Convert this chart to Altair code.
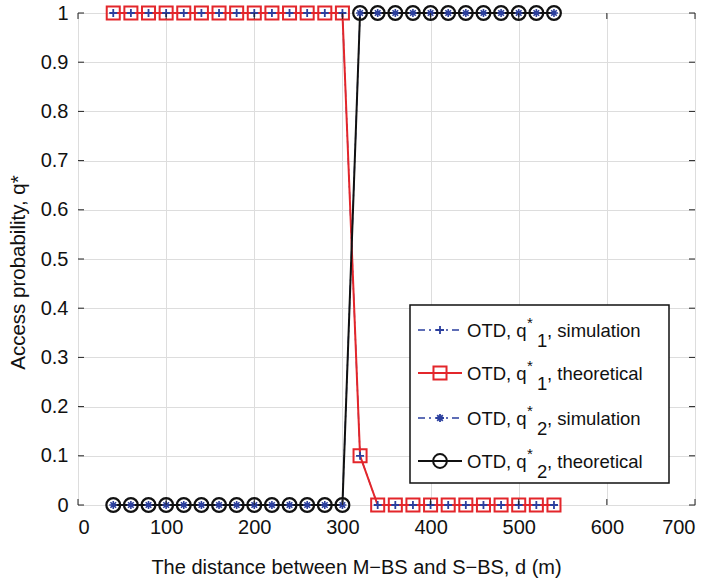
import altair as alt
import pandas as pd

# Distance between M-BS and S-BS (m)
distance = [40, 60, 80, 100, 120, 140, 160, 180, 200, 220, 240, 260, 280,
            300, 320, 340, 360, 380, 400, 420, 440, 460, 480, 500, 520, 540]
# Access probabilities
q1_sim = [1, 1, 1, 1, 1, 1, 1, 1, 1, 1, 1, 1, 1, 1, 0.1,
          0, 0, 0, 0, 0, 0, 0, 0, 0, 0, 0]
q1_theory = [1, 1, 1, 1, 1, 1, 1, 1, 1, 1, 1, 1, 1, 1, 0.1,
             0, 0, 0, 0, 0, 0, 0, 0, 0, 0, 0]
q2_sim = [0, 0, 0, 0, 0, 0, 0, 0, 0, 0, 0, 0, 0, 0, 1,
          1, 1, 1, 1, 1, 1, 1, 1, 1, 1, 1]
q2_theory = [0, 0, 0, 0, 0, 0, 0, 0, 0, 0, 0, 0, 0, 0, 1,
             1, 1, 1, 1, 1, 1, 1, 1, 1, 1, 1]

x_ticks = [0, 100, 200, 300, 400, 500, 600, 700]
y_ticks = [0, 0.1, 0.2, 0.3, 0.4, 0.5, 0.6, 0.7, 0.8, 0.9, 1]

W, H = 617, 492
FONT = "Liberation Sans"
RED = "#e3262b"
BLUE = "#2b3f9e"
BLACK = "#111111"

PLUS = "M-1,0L1,0M0,-1L0,1"
STAR = "M-1,0L1,0M0,-1L0,1M-0.7,-0.7L0.7,0.7M-0.7,0.7L0.7,-0.7"

df_q1s = pd.DataFrame({"d": distance, "q": q1_sim})
df_q1t = pd.DataFrame({"d": distance, "q": q1_theory})
df_q2s = pd.DataFrame({"d": distance, "q": q2_sim})
df_q2t = pd.DataFrame({"d": distance, "q": q2_theory})

xs = alt.Scale(domain=[0, 700], nice=False)
ys = alt.Scale(domain=[0, 1], nice=False)

X = alt.X("d:Q", scale=xs, axis=alt.Axis(
    values=x_ticks, format="d", grid=True, tickSize=0, domain=False,
    labelFontSize=20, labelPadding=12, labelFont=FONT, labelColor="#111",
    title="The distance between M\u2212BS and S\u2212BS, d (m)",
    titleFont=FONT, titleFontSize=20, titleFontWeight="normal", titleColor="#111",
    titleX=278, titleY=62, titleBaseline="middle", titleAnchor="middle", titleAlign="center"))
Y = alt.Y("q:Q", scale=ys, axis=alt.Axis(
    values=y_ticks, format=".1~f", grid=True, tickSize=0, domain=False,
    labelFontSize=20, labelPadding=10, labelFont=FONT, labelColor="#111",
    title="Access probability, q*",
    titleFont=FONT, titleFontSize=20.5, titleFontWeight="normal", titleColor="#111",
    titleX=-60, titleY=259, titleAngle=-90, titleBaseline="middle", titleAlign="center"))


def line(df, color, width, dash=None):
    kw = dict(color=color, strokeWidth=width)
    if dash:
        kw["strokeDash"] = dash
    return alt.Chart(df).mark_line(**kw).encode(x=X, y=Y)


def points(df, shape, color, size, width, fill=False):
    return alt.Chart(df).mark_point(shape=shape, filled=fill, stroke=color,
                                    strokeWidth=width, size=size, opacity=1).encode(
        x=alt.X("d:Q", scale=xs), y=alt.Y("q:Q", scale=ys))


# Inward tick marks on all four sides
tx = pd.DataFrame({"d": x_ticks})
ty = pd.DataFrame({"q": y_ticks})
ticks = [
    alt.Chart(tx).mark_rule(color="#222", strokeWidth=1).encode(
        x=alt.X("d:Q", scale=xs), y=alt.value(H), y2=alt.value(H - 6)),
    alt.Chart(tx).mark_rule(color="#222", strokeWidth=1).encode(
        x=alt.X("d:Q", scale=xs), y=alt.value(0), y2=alt.value(6)),
    alt.Chart(ty).mark_rule(color="#222", strokeWidth=1).encode(
        y=alt.Y("q:Q", scale=ys), x=alt.value(0), x2=alt.value(6)),
    alt.Chart(ty).mark_rule(color="#222", strokeWidth=1).encode(
        y=alt.Y("q:Q", scale=ys), x=alt.value(W - 6), x2=alt.value(W)),
]

series = [
    line(df_q1s, BLUE, 1.3, [7, 4, 2, 4]),
    line(df_q1t, RED, 2),
    line(df_q2s, BLUE, 1.3, [7, 4, 2, 4]),
    line(df_q2t, BLACK, 2),
    points(df_q1t, "square", RED, 170, 2),
    points(df_q2t, "circle", BLACK, 190, 2.2),
    points(df_q1s, PLUS, BLUE, 64, 1.8),
    points(df_q2s, STAR, BLUE, 64, 1.6),
]

# Legend box
box = alt.Chart(pd.DataFrame({"k": [0]})).mark_rect(
    fill="white", stroke="#111", strokeWidth=1.5).encode(
    x=alt.value(332), x2=alt.value(591), y=alt.value(292), y2=alt.value(470))

legend_entries = [
    # (row y, line colour, dash, marker shape, marker colour, marker size, subscript, suffix)
    (317, BLUE, [7, 4, 2, 4], PLUS, BLUE, 64, "1", ", simulation"),
    (360, RED, None, "square", RED, 170, "1", ", theoretical"),
    (405, BLUE, [7, 4, 2, 4], STAR, BLUE, 64, "2", ", simulation"),
    (448, BLACK, None, "circle", BLACK, 190, "2", ", theoretical"),
]

one = pd.DataFrame({"k": [0]})
legend_layers = [box]
for ry, lc, dash, shape, mc, msize, sub, suffix in legend_entries:
    kw = dict(color=lc, strokeWidth=2 if dash is None else 1.3)
    if dash:
        kw["strokeDash"] = dash
    legend_layers.append(alt.Chart(one).mark_rule(**kw).encode(
        x=alt.value(340), x2=alt.value(384), y=alt.value(ry)))
    legend_layers.append(alt.Chart(one).mark_point(
        shape=shape, filled=False, stroke=mc, size=msize,
        strokeWidth=2 if dash is None else 1.8, opacity=1).encode(
        x=alt.value(362), y=alt.value(ry)))
    txt = dict(font=FONT, color="#111", align="left", baseline="middle")
    legend_layers.append(alt.Chart(one).mark_text(fontSize=18.5, **txt).encode(
        x=alt.value(389), y=alt.value(ry + 1), text=alt.value("OTD, q")))
    legend_layers.append(alt.Chart(one).mark_text(fontSize=15, **txt).encode(
        x=alt.value(449), y=alt.value(ry - 7), text=alt.value("*")))
    legend_layers.append(alt.Chart(one).mark_text(fontSize=18.5, **txt).encode(
        x=alt.value(459), y=alt.value(ry + 11), text=alt.value(sub)))
    legend_layers.append(alt.Chart(one).mark_text(fontSize=18.5, **txt).encode(
        x=alt.value(469), y=alt.value(ry + 1), text=alt.value(suffix)))

chart = alt.layer(*series, *ticks, *legend_layers).properties(
    width=W, height=H,
    autosize=alt.AutoSizeParams(type="none"),
    padding={"left": 78, "top": 13, "right": 14, "bottom": 75},
).configure_view(
    stroke="#222", strokeWidth=1.3
).configure_axis(
    gridColor="#9a9a9a", gridDash=[1.5, 3.5], gridWidth=1, gridOpacity=1
).configure(background="white")

chart.save("out.html", embed_options={"renderer": "svg", "actions": False})
